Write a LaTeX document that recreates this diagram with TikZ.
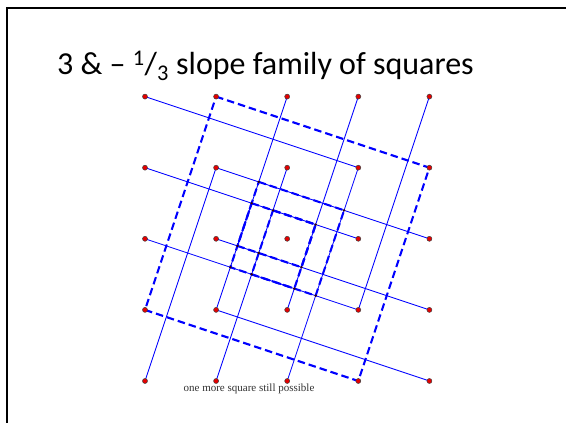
\documentclass[tikz,border=0pt]{standalone}
\usepackage{fontspec}
\setmainfont{Liberation Serif}
\newfontfamily\titlefont{Carlito}
\begin{document}
\begin{tikzpicture}[x=1pt,y=1pt,
  thinline/.style={blue, line width=0.85pt},
  dashline/.style={blue, line width=2.1pt, dash pattern=on 7.5pt off 4pt},
  reddot/.style={circle, fill=red!90!black, draw=black!75, line width=0.5pt, inner sep=0pt, minimum size=5pt},
  blackdot/.style={circle, fill=black!80!red, inner sep=0pt, minimum size=2.6pt},
  frame/.style={draw=black, line width=2pt}]
\useasboundingbox (0,0) rectangle (566,423);
\clip (0,0) rectangle (566,423);
\fill[white] (0,0) rectangle (566,423);
\draw[frame] (6.5,-20) -- (6.5,414.5) -- (600,414.5);
\node[font=\titlefont\fontsize{32}{38}\selectfont, anchor=base] (title) at (265.5,348)
  {3 \& – \textsuperscript{1}/\textsubscript{3} slope family of squares};
% grid
\foreach \i in {0,...,4}{
  \foreach \j in {0,...,4}{
    \coordinate (p\i\j) at ({145+71.1*\i},{42+71.1*\j});
  }
}
% shallow (-1/3) lines
\draw[thinline] (p04) -- (p33);
\draw[thinline] (p03) -- (p32);
\draw[thinline] (p13) -- (p42);
\draw[thinline] (p02) -- (p31);
\draw[thinline] (p12) -- (p41);
\draw[thinline] (p11) -- (p40);
% steep (3) lines
\draw[thinline] (p00) -- (p13);
\draw[thinline] (p10) -- (p23);
\draw[thinline] (p20) -- (p33);
\draw[thinline] (p11) -- (p24);
\draw[thinline] (p21) -- (p34);
\draw[thinline] (p31) -- (p44);
% intersections
\coordinate (a1) at (intersection of p13--p42 and p11--p24);
\coordinate (a2) at (intersection of p13--p42 and p20--p33);
\coordinate (a3) at (intersection of p02--p31 and p20--p33);
\coordinate (a4) at (intersection of p02--p31 and p11--p24);
\coordinate (b1) at (intersection of p03--p32 and p11--p24);
\coordinate (b2) at (intersection of p03--p32 and p21--p34);
\coordinate (b3) at (intersection of p12--p41 and p21--p34);
\coordinate (b4) at (intersection of p12--p41 and p11--p24);
\coordinate (c1) at (intersection of p03--p32 and p10--p23);
\coordinate (c2) at (intersection of p02--p31 and p21--p34);
\coordinate (c3) at (intersection of p02--p31 and p10--p23);
\coordinate (c4) at (intersection of p12--p41 and p10--p23);
% dashed squares
\draw[dashline] (p14) -- (p43) -- (p30) -- (p01) -- cycle;
\draw[dashline] (a1) -- (a2) -- (a3) -- (a4) -- cycle;
\draw[dashline] (b1) -- (b2) -- (b3) -- (b4) -- cycle;
\draw[dashline] (c1) -- (b2) -- (c2) -- (c3) -- cycle;
% dots
\foreach \n in {a1,a2,a3,a4,b1,b2,b3,b4,c1,c2,c3,c4}{
  \node[blackdot] (d\n) at (\n) {};
}
\foreach \i in {0,...,4}{
  \foreach \j in {0,...,4}{
    \node[reddot] (d\i\j) at (p\i\j) {};
  }
}
\node[font=\fontsize{11}{13}\selectfont, text=black!80, anchor=base] (note) at (249,31) {one more square still possible};
\end{tikzpicture}
\end{document}
